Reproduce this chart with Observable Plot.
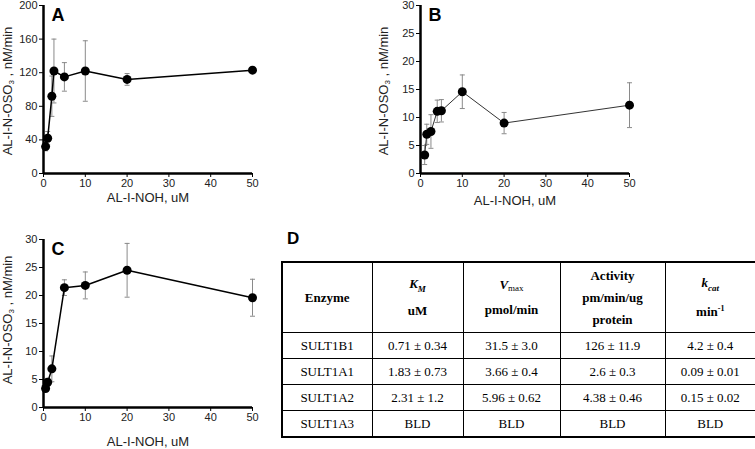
<!DOCTYPE html>
<html>
<head>
<meta charset="utf-8">
<script src="https://cdn.jsdelivr.net/npm/d3@7"></script>
<script src="https://cdn.jsdelivr.net/npm/@observablehq/plot@0.6"></script>
<style>
  body { margin: 0; background: #fff; width: 755px; height: 449px; overflow: hidden; position: relative; font-family: "Liberation Sans", Arial, sans-serif; }
  .panel { position: absolute; }
  .ylab, .xlab { position: absolute; font-size: 13px; color: #222; white-space: nowrap; transform: translate(-50%, -50%); }
  .ylab { transform: translate(-50%, -50%) rotate(-90deg); }
  .ylab sub { font-size: 8px; vertical-align: -2px; }
  .dlet { position: absolute; font-weight: bold; font-size: 17px; }
  table { position: absolute; left: 281px; top: 261px; width: 474px; border-collapse: collapse; font-family: "Liberation Serif", "Times New Roman", serif; font-size: 13px; table-layout: fixed; }
  td, th { border: 1px solid #000; text-align: center; padding: 0; }
  table { border: 2px solid #000; }
  th { height: 69px; font-weight: bold; line-height: 22px; }
  td { height: 25px; }
  th i sub { font-size: 9px; }
  .mx { font-size: 9px; font-weight: normal; vertical-align: -2px; }
  sup { font-size: 8px; }
</style>
</head>
<body>
<div id="A" class="panel" style="left:0;top:0"></div>
<div id="B" class="panel" style="left:377px;top:0"></div>
<div id="C" class="panel" style="left:0;top:234px"></div>

<div class="ylab" style="left:8px;top:91px">AL-I-N-OSO<sub>3</sub> , nM/min</div>
<div class="ylab" style="left:384px;top:91px">AL-I-N-OSO<sub>3</sub> , nM/min</div>
<div class="ylab" style="left:8px;top:320px">AL-I-N-OSO<sub>3</sub> , nM/min</div>
<div class="xlab" style="left:148px;top:197px">AL-I-NOH, uM</div>
<div class="xlab" style="left:515px;top:200px">AL-I-NOH, uM</div>
<div class="xlab" style="left:148px;top:441px">AL-I-NOH, uM</div>

<div class="dlet" style="left:287px;top:229px">D</div>
<table id="tbl"></table>

<script>
// ---- data ----
const xTicks = [0, 10, 20, 30, 40, 50];

const concA = [0.5, 1, 2, 2.5, 5, 10, 20, 50];
const rateA = [32, 42, 92, 122, 115, 122, 112, 123];
const errA  = [5, 8, 24, 38, 17, 36, 7, 3];
const yTicksA = [0, 40, 80, 120, 160, 200];

const concB = [1, 1.5, 2.5, 4, 5, 10, 20, 50];
const rateB = [3.3, 7.0, 7.5, 11.1, 11.2, 14.6, 9.0, 12.2];
const errB  = [1.7, 1.8, 3.0, 2.0, 2.0, 3.0, 1.9, 4.0];
const yTicksB = [0, 5, 10, 15, 20, 25, 30];

const concC = [0.5, 1, 2, 5, 10, 20, 50];
const rateC = [3.4, 4.5, 6.9, 21.4, 21.8, 24.5, 19.6];
const errC  = [0.5, 0.7, 2.3, 1.4, 2.4, 4.8, 3.3];
const yTicksC = [0, 5, 10, 15, 20, 25, 30];

const tableHeader = ["Enzyme", "<i>K<sub>M</sub></i><br>uM", "<i>V</i><span class='mx'>max</span><br>pmol/min", "Activity<br>pm/min/ug<br>protein", "<i>k<sub>cat</sub></i><br>min<sup>-1</sup>"];
const enzymes = ["SULT1B1", "SULT1A1", "SULT1A2", "SULT1A3"];
const kmVals = ["0.71 ± 0.34", "1.83 ± 0.73", "2.31 ± 1.2", "BLD"];
const vmaxVals = ["31.5 ± 3.0", "3.66 ± 0.4", "5.96 ± 0.62", "BLD"];
const activityVals = ["126 ± 11.9", "2.6 ± 0.3", "4.38 ± 0.46", "BLD"];
const kcatVals = ["4.2 ± 0.4", "0.09 ± 0.01", "0.15 ± 0.02", "BLD"];
const colWidths = [90, 91, 97, 105, 91];

// ---- chart ----
const capSymbol = {
  draw(ctx, size) {
    const r = Math.sqrt(size / Math.PI);
    ctx.moveTo(-r, 0); ctx.lineTo(r, 0);
  }
};

function panel(conc, rate, err, yTicks, letter, lineW, lineC) {
  const data = conc.map((x, i) => ({x, y: rate[i], lo: rate[i] - err[i], hi: rate[i] + err[i]}));
  return Plot.plot({
    width: 260, height: 205,
    marginLeft: 43, marginTop: 5, marginBottom: 32, marginRight: 8,
    x: {domain: [0, 50]},
    y: {domain: [yTicks[0], yTicks[yTicks.length - 1]]},
    style: {fontFamily: "'Liberation Sans', Arial, sans-serif", fontSize: "11px", color: "#222", background: "transparent", overflow: "visible"},
    marks: [
      Plot.axisX({ticks: xTicks, tickSize: 4, tickPadding: 2, label: null, stroke: "#000"}),
      Plot.axisY({ticks: yTicks, tickSize: 4, tickPadding: 2, label: null, stroke: "#000"}),
      Plot.ruleX(data, {x: "x", y1: "lo", y2: "hi", stroke: "#8a8a8a", strokeWidth: 1}),
      Plot.dot(data, {x: "x", y: "hi", symbol: capSymbol, r: 2.5, stroke: "#8a8a8a", fill: "none", strokeWidth: 1}),
      Plot.dot(data, {x: "x", y: "lo", symbol: capSymbol, r: 2.5, stroke: "#8a8a8a", fill: "none", strokeWidth: 1}),
      Plot.line(data, {x: "x", y: "y", stroke: lineC, strokeWidth: lineW}),
      Plot.dot(data, {x: "x", y: "y", r: 4.5, fill: "#000", stroke: "none"}),
      Plot.ruleY([yTicks[0]], {stroke: "#000", strokeWidth: 2.5}),
      Plot.ruleX([0], {stroke: "#000", strokeWidth: 2.5}),
      Plot.text([letter], {frameAnchor: "top-left", dx: 8, dy: 3, text: d => d, fontWeight: "bold", fontSize: 18, fill: "#000", textAnchor: "start", lineAnchor: "top"})
    ]
  });
}

document.getElementById("A").append(panel(concA, rateA, errA, yTicksA, "A", 1.5, "#000"));
document.getElementById("B").append(panel(concB, rateB, errB, yTicksB, "B", 1, "#333"));
document.getElementById("C").append(panel(concC, rateC, errC, yTicksC, "C", 1.5, "#000"));

// ---- table ----
const tbl = document.getElementById("tbl");
const cg = document.createElement("colgroup");
colWidths.forEach(w => { const c = document.createElement("col"); c.style.width = w + "px"; cg.append(c); });
tbl.append(cg);
const hr = document.createElement("tr");
tableHeader.forEach(h => { const th = document.createElement("th"); th.innerHTML = h; hr.append(th); });
tbl.append(hr);
enzymes.forEach((e, i) => {
  const tr = document.createElement("tr");
  [e, kmVals[i], vmaxVals[i], activityVals[i], kcatVals[i]].forEach(v => {
    const td = document.createElement("td"); td.textContent = v; tr.append(td);
  });
  tbl.append(tr);
});
</script>
</body>
</html>
